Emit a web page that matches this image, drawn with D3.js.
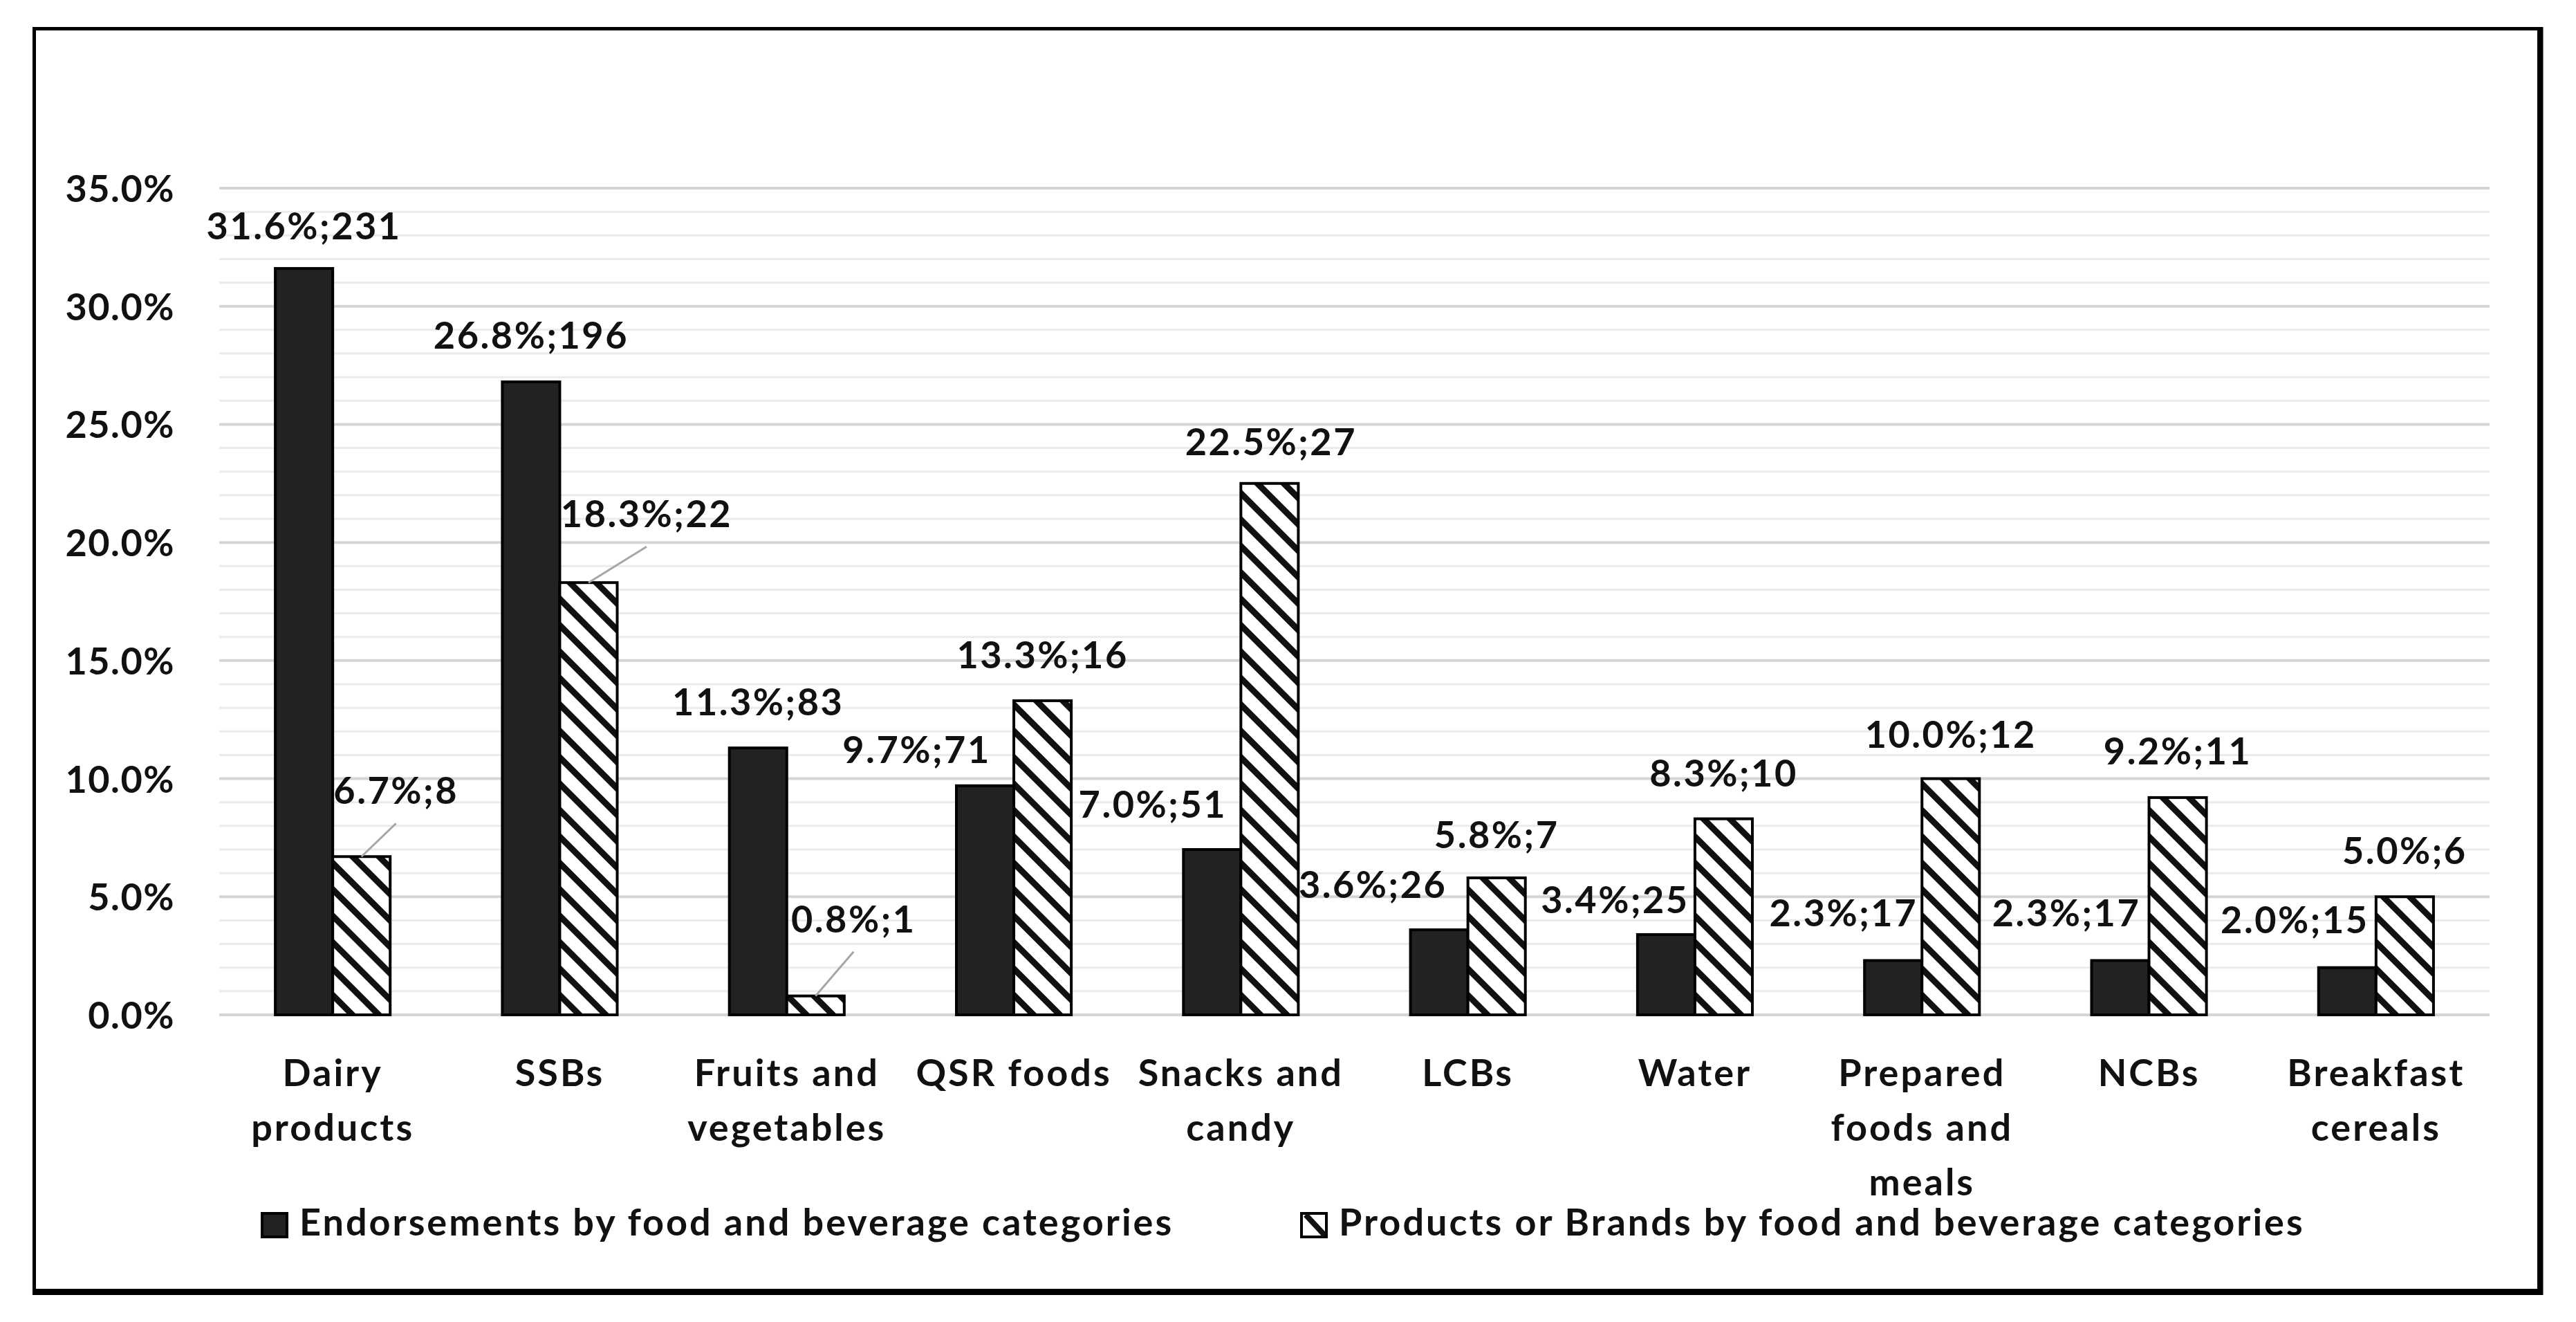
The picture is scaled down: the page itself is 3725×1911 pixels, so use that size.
<!DOCTYPE html>
<html>
<head>
<meta charset="utf-8">
<script src="https://cdn.jsdelivr.net/npm/d3@7"></script>
<style>
  html, body { margin: 0; padding: 0; background: #fff; }
  svg text { font-family: Lato, "Open Sans", sans-serif; font-weight: 700; fill: #111; }
</style>
</head>
<body>
<div id="chart"></div>
<script>
// Data
var categories = ["Dairy products", "SSBs", "Fruits and vegetables", "QSR foods", "Snacks and candy",
  "LCBs", "Water", "Prepared foods and meals", "NCBs", "Breakfast cereals"];
// category labels wrapped as in the original
var categoryLines = [["Dairy", "products"], ["SSBs"], ["Fruits and", "vegetables"], ["QSR foods"],
  ["Snacks and", "candy"], ["LCBs"], ["Water"], ["Prepared", "foods and", "meals"], ["NCBs"],
  ["Breakfast", "cereals"]];
var endorsementPct = [31.6, 26.8, 11.3, 9.7, 7.0, 3.6, 3.4, 2.3, 2.3, 2.0];
var endorsementN = [231, 196, 83, 71, 51, 26, 25, 17, 17, 15];
var productPct = [6.7, 18.3, 0.8, 13.3, 22.5, 5.8, 8.3, 10.0, 9.2, 5.0];
var productN = [8, 22, 1, 16, 27, 7, 10, 12, 11, 6];
var seriesNames = ["Endorsements by food and beverage categories",
  "Products or Brands by food and beverage categories"];
var yTicks = [0, 5, 10, 15, 20, 25, 30, 35];

// label nudges (px) for the data labels that were dragged in the source chart
var endorseNudge = [[0, 5], [0, -1], [0, 0], [-99, 14], [-86, 1], [-96, 1], [-74, 16], [-72, -2], [-78, -2], [-76, -3]];
var productNudge = [[50, -29], [84, -33], [55, -45], [0, 0], [2, 6], [0, 4], [0, 0], [0, 2], [0, -1], [0, 0]];
var productLeader = [true, true, true, false, false, false, false, false, false, false];

var W = 3725, H = 1911;
var plot = { left: 317, right: 3600, top: 272, bottom: 1467 };

var svg = d3.select("#chart").append("svg")
    .attr("width", W)
    .attr("height", H);

svg.append("rect").attr("width", W).attr("height", H).attr("fill", "#fff");

var defs = svg.append("defs");
var hatch = defs.append("pattern")
    .attr("id", "hatch")
    .attr("patternUnits", "userSpaceOnUse")
    .attr("width", 27)
    .attr("height", 27)
    .attr("patternTransform", "rotate(-45)");
hatch.append("rect").attr("width", 27).attr("height", 27).attr("fill", "#fff");
hatch.append("line")
    .attr("x1", 13.5).attr("x2", 13.5).attr("y1", 0).attr("y2", 27)
    .attr("stroke", "#111").attr("stroke-width", 9);

var y = d3.scaleLinear().domain([0, 35]).range([plot.bottom, plot.top]);
var x0 = d3.scaleBand().domain(categories).range([plot.left, plot.right])
    .paddingInner(0.494).paddingOuter(0.247);
var x1 = d3.scaleBand().domain([0, 1]).range([0, x0.bandwidth()]);

// gridlines: every 1%, darker every 5%
var minor = d3.range(0, 36).filter(function (d) { return d % 5 !== 0; });
svg.append("g").selectAll("line.minor")
    .data(minor).enter().append("line")
    .attr("x1", plot.left).attr("x2", plot.right)
    .attr("y1", function (d) { return y(d); })
    .attr("y2", function (d) { return y(d); })
    .attr("stroke", "#ebebeb").attr("stroke-width", 3);
svg.append("g").selectAll("line.major")
    .data(yTicks).enter().append("line")
    .attr("x1", plot.left).attr("x2", plot.right)
    .attr("y1", function (d) { return y(d); })
    .attr("y2", function (d) { return y(d); })
    .attr("stroke", "#d5d5d5").attr("stroke-width", 4);

// y axis labels
var yAxis = d3.axisLeft(y).tickValues(yTicks).tickSize(0).tickPadding(64)
    .tickFormat(function (d) { return d3.format(".1f")(d) + "%"; });
var gy = svg.append("g").attr("transform", "translate(" + plot.left + ",0)").call(yAxis);
gy.select(".domain").remove();
gy.selectAll("text").attr("font-size", 54).attr("font-family", null)
    .attr("letter-spacing", 1.5).attr("dy", "0.36em");

// x axis (category labels, wrapped)
var xAxis = d3.axisBottom(x0).tickSize(0).tickFormat("");
var gx = svg.append("g").attr("transform", "translate(0," + plot.bottom + ")").call(xAxis);
gx.select(".domain").remove();
gx.selectAll(".tick text").each(function (d, i) {
    var t = d3.select(this).attr("font-size", 54).attr("font-family", null)
        .attr("letter-spacing", 3).attr("dy", null).attr("y", 0);
    categoryLines[i].forEach(function (line, k) {
        t.append("tspan").attr("x", 0).attr("y", 103 + k * 79).text(line);
    });
});

// bars
var rows = categories.map(function (c, i) {
    return { cat: c, i: i, vals: [endorsementPct[i], productPct[i]], ns: [endorsementN[i], productN[i]] };
});
var group = svg.append("g").selectAll("g.cat")
    .data(rows).enter().append("g")
    .attr("transform", function (d) { return "translate(" + x0(d.cat) + ",0)"; });
group.selectAll("rect")
    .data(function (d) { return d.vals.map(function (v, s) { return { s: s, v: v }; }); })
    .enter().append("rect")
    .attr("x", function (d) { return x1(d.s); })
    .attr("width", x1.bandwidth())
    .attr("y", function (d) { return y(d.v); })
    .attr("height", function (d) { return y(0) - y(d.v); })
    .attr("fill", function (d) { return d.s === 0 ? "#222" : "url(#hatch)"; })
    .attr("stroke", "#000")
    .attr("stroke-width", 4);

// data labels
var labels = svg.append("g");
rows.forEach(function (r) {
    [0, 1].forEach(function (s) {
        var cx = x0(r.cat) + x1(s) + x1.bandwidth() / 2;
        var top = y(r.vals[s]);
        var nudge = s === 0 ? endorseNudge[r.i] : productNudge[r.i];
        var lx = cx + nudge[0], ly = top - 47 + nudge[1];
        if (s === 1 && productLeader[r.i]) {
            labels.append("line")
                .attr("x1", lx).attr("y1", ly + 28)
                .attr("x2", cx).attr("y2", top)
                .attr("stroke", "#a6a6a6").attr("stroke-width", 3);
        }
        labels.append("text")
            .attr("x", lx).attr("y", ly)
            .attr("text-anchor", "middle")
            .attr("font-size", 54)
            .attr("letter-spacing", 2.5)
            .text(d3.format(".1f")(r.vals[s]) + "%;" + r.ns[s]);
    });
});

// legend
var legendX = [377, 1880];
var leg = svg.append("g").selectAll("g.leg")
    .data(seriesNames).enter().append("g")
    .attr("transform", function (d, i) { return "translate(" + legendX[i] + ",1752)"; });
leg.append("rect")
    .attr("x", 2).attr("y", 2).attr("width", 36).attr("height", 34)
    .attr("fill", function (d, i) { return i === 0 ? "#222" : "#fff"; })
    .attr("stroke", "#000").attr("stroke-width", 4);
leg.filter(function (d, i) { return i === 1; }).append("line")
    .attr("x1", 8).attr("y1", 4).attr("x2", 36).attr("y2", 34)
    .attr("stroke", "#111").attr("stroke-width", 8);
leg.append("text")
    .attr("x", 56).attr("y", 34)
    .attr("font-size", 54)
    .attr("letter-spacing", 3)
    .text(function (d) { return d; });

// outer frame
svg.append("rect")
    .attr("x", 49.5).attr("y", 41.5).attr("width", 3622).attr("height", 1824)
    .attr("fill", "none").attr("stroke", "#000").attr("stroke-width", 5);
svg.append("line").attr("x1", 3674).attr("x2", 3674).attr("y1", 39).attr("y2", 1872)
    .attr("stroke", "#000").attr("stroke-width", 7);
svg.append("line").attr("x1", 47).attr("x2", 3677).attr("y1", 1867.5).attr("y2", 1867.5)
    .attr("stroke", "#000").attr("stroke-width", 9);
</script>
</body>
</html>
